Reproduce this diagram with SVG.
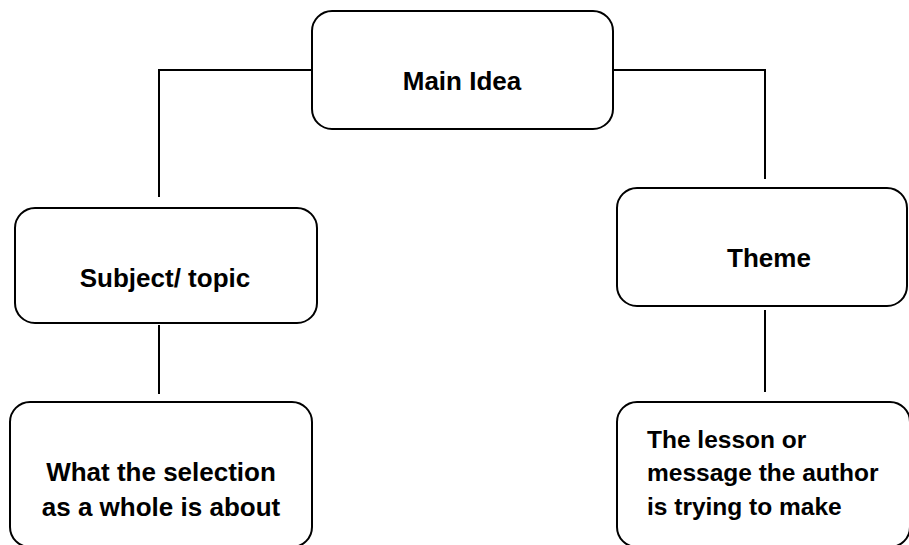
<svg xmlns="http://www.w3.org/2000/svg" width="909" height="545" viewBox="0 0 909 545">
<style>
.box{fill:#fff;stroke:#000;stroke-width:2}
.conn{fill:none;stroke:#000;stroke-width:2}
.t{font-family:"Liberation Sans",Arial,sans-serif;font-weight:bold;font-size:26px;fill:#000}
.c{text-anchor:middle}
.s{font-size:24.5px}
</style>
<rect width="909" height="545" fill="#fff"/>
<g id="connectors">
<polyline class="conn" points="312,70 159,70 159,197"/>
<line class="conn" x1="159" y1="325" x2="159" y2="394"/>
<polyline class="conn" points="613,70 765,70 765,179"/>
<line class="conn" x1="765" y1="310" x2="765" y2="392"/>
</g>
<g id="main-idea">
<rect class="box" x="312" y="11" width="301" height="118" rx="20"/>
<text class="t c" x="462" y="90">Main Idea</text>
</g>
<g id="subject-topic">
<rect class="box" x="15" y="208" width="302" height="115" rx="20"/>
<text class="t c" x="165" y="287">Subject/ topic</text>
</g>
<g id="theme">
<rect class="box" x="617" y="188" width="290" height="118" rx="20"/>
<text class="t c" x="769" y="267">Theme</text>
</g>
<g id="subject-desc">
<rect class="box" x="10" y="402" width="302" height="145" rx="20"/>
<text class="t c" x="161" y="481">What the selection</text>
<text class="t c" x="161" y="516">as a whole is about</text>
</g>
<g id="theme-desc">
<rect class="box" x="617" y="402" width="293" height="145" rx="20"/>
<text class="t s" x="647" y="448">The lesson or</text>
<text class="t s" x="647" y="481">message the author</text>
<text class="t s" x="647" y="515">is trying to make</text>
</g>
</svg>
